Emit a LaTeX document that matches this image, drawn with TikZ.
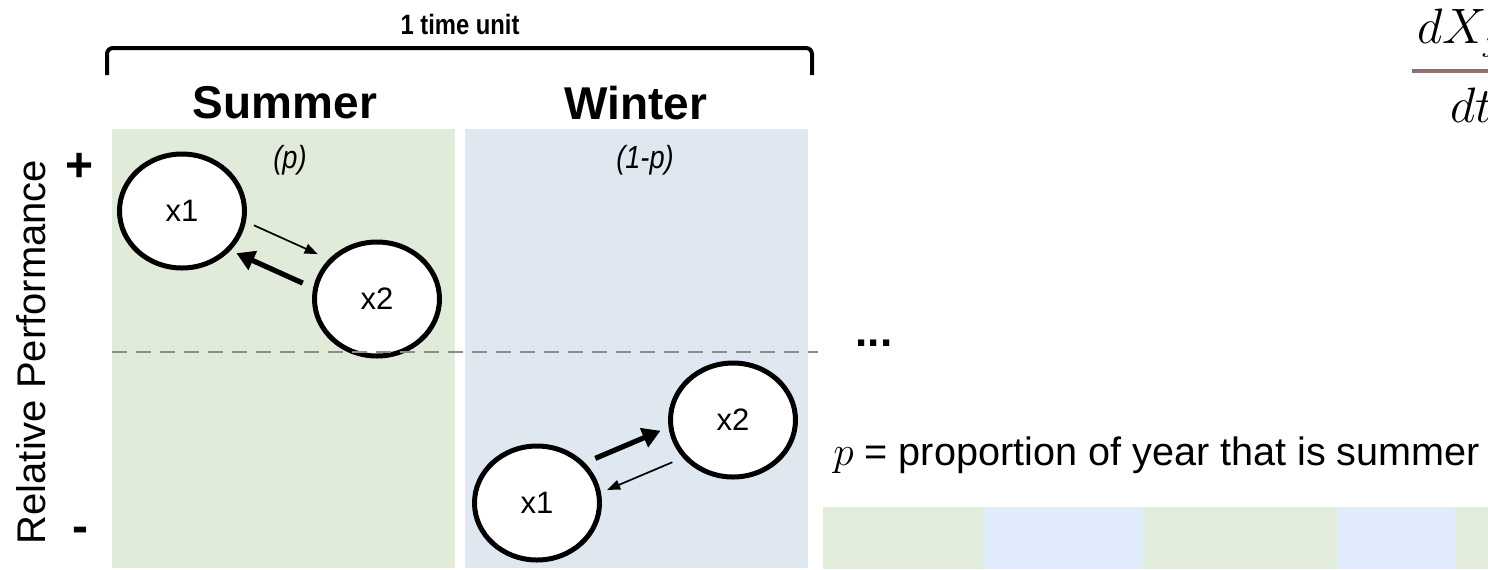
\documentclass[tikz,border=0pt]{standalone}
\usepackage{fontspec}
\setmainfont{Liberation Sans}
\newfontfamily\narrowfont{Liberation Sans}[FakeStretch=0.85]
\usetikzlibrary{arrows.meta,shapes.geometric,calc}
\definecolor{sumgreen}{RGB}{224,235,218}
\definecolor{winblue}{RGB}{223,231,240}
\definecolor{stripgreen}{RGB}{225,236,219}
\definecolor{stripblue}{RGB}{224,236,252}
\definecolor{fracbar}{RGB}{142,112,112}
\definecolor{dashgray}{RGB}{140,140,140}
\begin{document}
\begin{tikzpicture}[x=0.5pt,y=-0.5pt,
  pop/.style={ellipse, draw, line width=2.5pt, fill=white, minimum width=62.5pt,
    minimum height=57pt, inner sep=0pt, font=\fontsize{15.5}{18}\selectfont},
  thinarr/.style={line width=0.85pt, -{Triangle[length=6.5pt,width=5pt]}},
  thickarr/.style={line width=2.6pt, -{Triangle[length=9pt,width=10pt]}},
  season/.style={font=\fontsize{23}{27}\selectfont\bfseries},
  share/.style={font=\fontsize{16}{19}\selectfont\narrowfont\itshape}]
\useasboundingbox (0,0) rectangle (1488,569);
\clip (0,0) rectangle (1488,569);

% panels
\fill[sumgreen] (112,129) rectangle (455,568);
\fill[winblue] (465,129) rectangle (808,568);

% bracket
\draw[line width=2pt, rounded corners=3pt] (107,75) -- (107,48) -- (812,48) -- (812,75);
\node[font=\fontsize{14}{17}\selectfont\bfseries\narrowfont] (unit) at (460,24) {1 time unit};

% season titles
\node[season] (summer) at (285,103) {Summer};
\node[season] (winter) at (636,103) {Winter};
\node[share] (p) at (290,160) {(p)};
\node[share] (q) at (645,160) {(1-p)};

% axis
\node[rotate=90, font=\fontsize{20}{24}\selectfont] (axis) at (31,352) {Relative Performance};
\node[font=\fontsize{24}{28}\selectfont\bfseries] (plus) at (80,167) {+};
\node[font=\fontsize{24}{28}\selectfont\bfseries] (minus) at (80,535) {-};

% populations
\node[pop] (s1) at (182,211) {x1};
\node[pop] (s2) at (377,299) {x2};
\node[pop] (w2) at (733,420) {x2};
\node[pop] (w1) at (537,503) {x1};

% interactions
\draw[thinarr] ($(s1)!0.333!(s2)+(7,-15)$) -- ($(s1)!0.66!(s2)+(7,-15)$);
\draw[thickarr] ($(s1)!0.66!(s2)+(-8,14)$) -- ($(s1)!0.32!(s2)+(-8,14)$);
\draw[thickarr] ($(w1)!0.333!(w2)+(-7,-17)$) -- ($(w1)!0.666!(w2)+(-7,-17)$);
\draw[thinarr] ($(w1)!0.66!(w2)+(6,14)$) -- ($(w1)!0.327!(w2)+(6,14)$);

% dashed mid line
\coordinate (dl) at (112,352);
\coordinate (dr) at (818,352);
\draw[dashgray, line width=1pt, dash pattern=on 7.5pt off 4.5pt] (dl) -- (dr);

% ellipsis and definition
\node[font=\fontsize{22}{26}\selectfont\bfseries] (dots) at (874,343) {...};
\node[anchor=base west, inner sep=0pt, font=\fontsize{19.8}{23}\selectfont] (def) at (833,465) {$p$ = proportion of year that is summer};

% time strip
\fill[stripgreen] (823,507) rectangle (983,569);
\fill[stripblue] (983,507) rectangle (1143,569);
\fill[stripgreen] (1143,507) rectangle (1337,569);
\fill[stripblue] (1337,507) rectangle (1455,569);
\fill[stripgreen] (1455,507) rectangle (1488,569);

% fraction (cut at the edge)
\node[anchor=base west, inner sep=0pt, font=\fontsize{25}{30}\selectfont] (num) at (1417,43) {$dX_j$};
\node[anchor=base west, inner sep=0pt, font=\fontsize{25}{30}\selectfont] (den) at (1450,122) {$dt$};
\draw[fracbar, line width=1.6pt] (1412,71) -- (1488,71);
\end{tikzpicture}
\end{document}
